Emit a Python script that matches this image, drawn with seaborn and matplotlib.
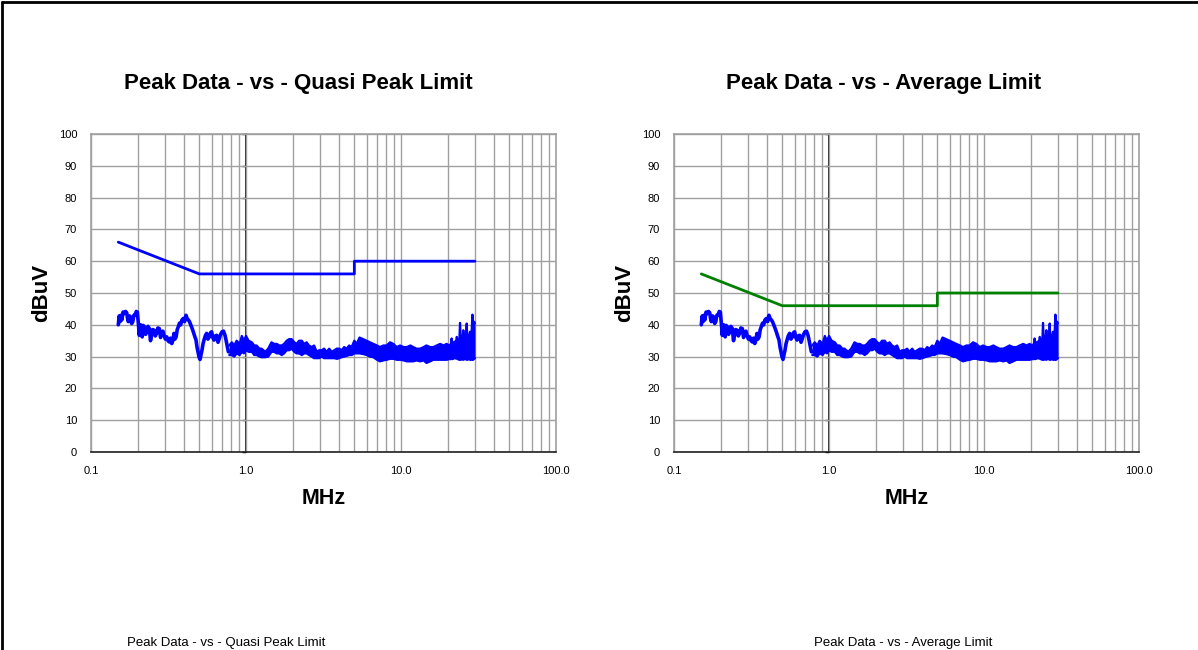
import numpy as np
import pandas as pd
import matplotlib
matplotlib.use("Agg")
import matplotlib.pyplot as plt
from matplotlib.ticker import LogLocator, FixedLocator, FixedFormatter, NullFormatter
from matplotlib.lines import Line2D
import seaborn as sns

# ---------------- data ----------------
titles = ["Peak Data - vs - Quasi Peak Limit", "Peak Data - vs - Average Limit"]

# Limit lines
qp_limit_mhz = [0.15, 0.5, 5.0, 5.0, 30.0]
qp_limit_dbuv = [66, 56, 56, 60, 60]
avg_limit_mhz = [0.15, 0.5, 5.0, 5.0, 30.0]
avg_limit_dbuv = [56, 46, 46, 50, 50]

# Peak trace, low-frequency part (single thick line)
peak_low_mhz = [0.150, 0.152, 0.154, 0.156, 0.158, 0.161, 0.163, 0.167, 0.170, 0.172,
                0.174, 0.177, 0.180, 0.183, 0.186, 0.189, 0.192, 0.196, 0.199, 0.202,
                0.205, 0.207, 0.209, 0.211, 0.214, 0.217, 0.221, 0.225, 0.229, 0.233,
                0.238, 0.242, 0.246, 0.250, 0.255, 0.260, 0.265, 0.270, 0.276, 0.281,
                0.286, 0.291, 0.296, 0.302, 0.308, 0.314, 0.320, 0.326, 0.332, 0.337,
                0.343, 0.348, 0.354, 0.360, 0.366, 0.372, 0.379, 0.386, 0.394, 0.402,
                0.410, 0.417, 0.425, 0.432, 0.440, 0.448, 0.457, 0.466, 0.476, 0.483,
                0.490, 0.497, 0.505, 0.512, 0.520, 0.528, 0.536, 0.546, 0.557, 0.568,
                0.580, 0.590, 0.600, 0.611, 0.622, 0.634, 0.647, 0.660, 0.673, 0.686,
                0.700, 0.716, 0.732, 0.745, 0.758, 0.770, 0.780]
peak_low_dbuv = [40.0, 42.8, 41.0, 43.0, 41.5, 44.0, 43.5, 44.2, 43.8, 42.0,
                 41.0, 42.8, 42.5, 40.4, 41.0, 43.0, 43.0, 44.2, 44.0, 40.5,
                 36.7, 39.5, 40.0, 37.0, 36.2, 39.8, 39.4, 37.0, 37.8, 39.5,
                 38.8, 35.0, 36.7, 38.5, 38.3, 36.5, 37.3, 39.0, 38.8, 36.0,
                 37.3, 38.0, 36.7, 35.5, 36.2, 35.0, 34.6, 35.8, 34.1, 35.0,
                 37.3, 35.5, 36.2, 38.5, 39.4, 40.5, 40.0, 41.5, 42.0, 41.0,
                 43.0, 42.0, 41.5, 41.0, 40.0, 39.0, 37.8, 36.5, 35.2, 33.0,
                 31.5, 30.0, 29.1, 30.5, 32.0, 34.0, 35.2, 36.5, 37.3, 35.5,
                 36.2, 37.5, 37.8, 36.0, 35.2, 36.5, 36.7, 34.5, 35.7, 37.0,
                 37.8, 38.0, 36.7, 35.0, 33.1, 31.5, 31.5]

# Peak trace, noisy band part: upper and lower envelope
band_mhz = [0.78, 0.81, 0.84, 0.87, 0.91, 0.94, 0.97, 1.00, 1.04, 1.09,
            1.13, 1.17, 1.22, 1.26, 1.33, 1.39, 1.46, 1.52, 1.58, 1.64,
            1.70, 1.76, 1.83, 1.90, 1.97, 2.05, 2.12, 2.20, 2.29, 2.37,
            2.46, 2.55, 2.65, 2.75, 2.86, 2.96, 3.08, 3.19, 3.31, 3.44,
            3.57, 3.71, 3.85, 4.00, 4.14, 4.30, 4.46, 4.63, 4.80, 5.00,
            5.18, 5.40, 5.70, 6.00, 6.30, 6.63, 7.00, 7.32, 7.70, 8.08,
            8.50, 8.92, 9.40, 9.85, 10.4, 10.9, 11.5, 12.0, 12.6, 13.3,
            14.0, 14.6, 15.4, 16.2, 17.0, 17.9, 18.8, 19.7, 20.4, 21.0,
            21.2, 21.5, 22.0, 22.7, 22.9, 23.2, 23.8, 24.03, 24.3, 24.9,
            25.25, 25.6, 26.2, 26.53, 26.8, 27.4, 27.87, 28.2, 28.6, 28.9,
            29.2, 29.6, 30.0]
band_hi = [33.5, 34.5, 33.5, 35.0, 34.0, 36.5, 35.0, 36.5, 35.0, 34.5,
           33.5, 33.5, 32.5, 32.5, 31.5, 32.5, 34.5, 34.0, 34.0, 33.5,
           33.5, 34.0, 35.0, 35.5, 35.5, 34.5, 34.0, 35.0, 35.0, 34.0,
           34.5, 33.5, 33.0, 33.5, 31.5, 32.0, 32.0, 32.5, 31.5, 32.5,
           31.5, 32.0, 32.5, 32.5, 32.0, 33.0, 32.5, 33.5, 33.0, 35.0,
           34.0, 36.0, 35.5, 35.0, 34.5, 34.0, 33.5, 33.0, 33.5, 33.5,
           34.5, 34.0, 33.0, 33.5, 33.0, 33.0, 33.5, 33.0, 32.5, 32.5,
           33.0, 33.5, 33.0, 33.0, 33.5, 34.0, 33.5, 34.0, 33.5, 34.0,
           35.7, 34.0, 34.5, 35.0, 36.2, 35.0, 35.5, 40.6, 35.5, 35.5,
           38.3, 35.5, 36.0, 40.4, 36.0, 36.0, 37.8, 36.0, 38.5, 43.2,
           40.0, 41.0, 40.5]
band_lo = [30.5, 30.5, 30.0, 31.0, 30.5, 31.5, 31.0, 32.0, 31.5, 31.5,
           30.5, 30.5, 30.0, 29.8, 29.8, 30.0, 31.5, 31.5, 31.0, 31.0,
           30.5, 31.0, 32.0, 32.0, 32.5, 31.5, 31.0, 31.0, 30.5, 31.0,
           31.0, 30.5, 30.0, 29.5, 29.5, 29.5, 30.0, 29.5, 29.5, 29.5,
           29.5, 29.5, 29.3, 29.5, 29.8, 30.0, 30.2, 30.5, 30.5, 31.0,
           31.0, 31.0, 30.8, 30.5, 30.0, 29.8, 29.0, 28.5, 28.8, 29.0,
           29.3, 29.3, 29.0, 29.0, 28.8, 28.5, 28.5, 28.5, 28.8, 28.5,
           28.8, 28.0, 28.5, 29.0, 29.0, 29.0, 29.0, 29.0, 29.2, 29.2,
           29.4, 29.2, 29.5, 29.4, 29.4, 29.2, 29.0, 29.5, 29.0, 29.2,
           29.0, 29.2, 29.2, 29.0, 29.0, 29.2, 29.0, 29.2, 29.0, 29.5,
           29.0, 29.3, 29.5]

x_tick_values = [0.1, 1.0, 10.0, 100.0]
x_tick_labels = ["0.1", "1.0", "10.0", "100.0"]
y_tick_values = [0, 10, 20, 30, 40, 50, 60, 70, 80, 90, 100]

# ---------------- styling ----------------
sns.set_style("white")
plt.rcParams["font.family"] = ["Liberation Sans", "DejaVu Sans"]
plt.rcParams["text.color"] = "black"
plt.rcParams["axes.labelcolor"] = "black"
plt.rcParams["xtick.color"] = "black"
plt.rcParams["ytick.color"] = "black"

W, H = 1198, 650
fig = plt.figure(figsize=(W / 100, H / 100), dpi=100)

TRACE = "#0000ff"
GRID = "#a0a0a0"

axes_px = [(91, 134, 556, 452), (674, 134, 1139, 452)]
limits = [(qp_limit_mhz, qp_limit_dbuv, "#0000ff"), (avg_limit_mhz, avg_limit_dbuv, "#008000")]
title_cx = [298, 884]
bottom_cx = [226, 903]

peak_low_df = pd.DataFrame({"MHz": peak_low_mhz, "dBuV": peak_low_dbuv})
band_hi_df = pd.DataFrame({"MHz": band_mhz, "dBuV": band_hi})
band_lo_df = pd.DataFrame({"MHz": band_mhz, "dBuV": band_lo})

for i, (x0, y0, x1, y1) in enumerate(axes_px):
    ax = fig.add_axes([x0 / W, 1 - y1 / H, (x1 - x0) / W, (y1 - y0) / H])
    ax.set_xscale("log")
    ax.set_xlim(0.1, 100)
    ax.set_ylim(0, 100)

    # grid
    ax.xaxis.set_major_locator(FixedLocator(x_tick_values))
    ax.xaxis.set_major_formatter(FixedFormatter(x_tick_labels))
    ax.xaxis.set_minor_locator(LogLocator(base=10, subs=np.arange(2, 10)))
    ax.xaxis.set_minor_formatter(NullFormatter())
    ax.yaxis.set_major_locator(FixedLocator(y_tick_values))
    ax.grid(which="major", axis="both", color=GRID, lw=1.0)
    ax.grid(which="minor", axis="x", color=GRID, lw=1.0)
    ax.set_axisbelow(True)

    for s in ["left", "top", "right"]:
        ax.spines[s].set_color(GRID)
        ax.spines[s].set_linewidth(1.2)
    ax.spines["bottom"].set_color("#202020")
    ax.spines["bottom"].set_linewidth(1.2)

    ax.tick_params(axis="x", which="major", direction="out", length=4, width=1,
                   color="#202020", labelsize=8, pad=6, labelcolor="black")
    ax.tick_params(axis="x", which="minor", length=0)
    ax.tick_params(axis="y", which="major", length=0, labelsize=8, pad=10,
                   labelcolor="black")

    # value axis crossing at 1.0 MHz
    sec = ax.secondary_yaxis(1 / 3)
    sec.spines["left"].set_color("black")
    sec.spines["left"].set_linewidth(1.2)
    sec.yaxis.set_major_locator(FixedLocator(y_tick_values))
    sec.tick_params(axis="y", direction="out", length=3, width=1, color="black",
                    labelleft=False, labelright=False)

    # limit line
    lim_df = pd.DataFrame({"MHz": limits[i][0], "dBuV": limits[i][1]})
    sns.lineplot(data=lim_df, x="MHz", y="dBuV", ax=ax, sort=False, estimator=None,
                 color=limits[i][2], lw=2.0)

    # peak data
    sns.lineplot(data=peak_low_df, x="MHz", y="dBuV", ax=ax, sort=False, estimator=None,
                 color=TRACE, lw=2.6)
    ax.fill_between(band_mhz, band_lo, band_hi, color=TRACE, lw=0)
    sns.lineplot(data=band_hi_df, x="MHz", y="dBuV", ax=ax, sort=False, estimator=None,
                 color=TRACE, lw=1.6)
    sns.lineplot(data=band_lo_df, x="MHz", y="dBuV", ax=ax, sort=False, estimator=None,
                 color=TRACE, lw=1.6)

    ax.set_xlabel("")
    ax.set_ylabel("")

    # texts
    fig.text(title_cx[i] / W, 1 - 84 / H, titles[i], ha="center", va="center",
             fontsize=16, fontweight="bold", color="black")
    fig.text((x0 - 49) / W, 1 - 293 / H, "dBuV", ha="center", va="center",
             rotation=90, fontsize=16, fontweight="bold", color="black")
    fig.text(((x0 + x1) / 2) / W, 1 - 499 / H, "MHz", ha="center", va="center",
             fontsize=15.5, fontweight="bold", color="black")
    fig.text(bottom_cx[i] / W, 1 - 643 / H, titles[i], ha="center", va="center",
             fontsize=9.5, color="black")

# outer frame (left and top edges visible)
fig.add_artist(Line2D([1.5 / W, 1.5 / W], [0, 1 - 1.5 / H], transform=fig.transFigure,
                      color="black", lw=2))
fig.add_artist(Line2D([1.5 / W, 1], [1 - 1.5 / H, 1 - 1.5 / H], transform=fig.transFigure,
                      color="black", lw=2))

fig.savefig("out.png", dpi=100)
